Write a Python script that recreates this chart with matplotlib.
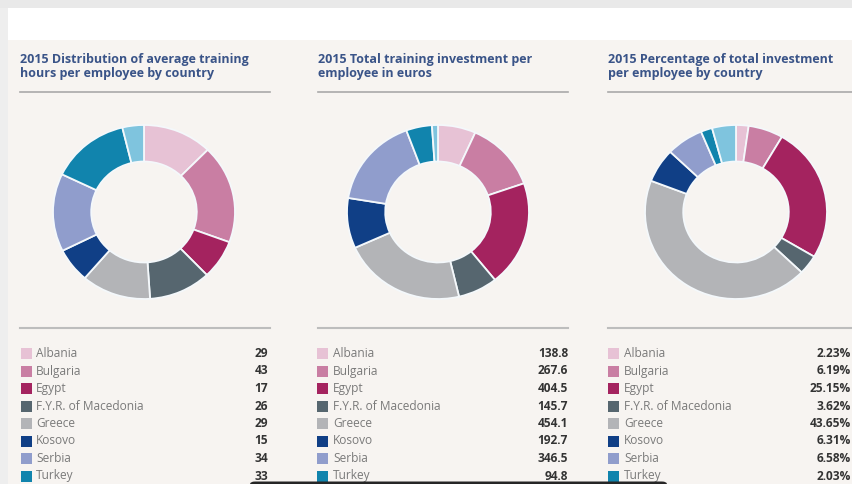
import matplotlib
matplotlib.use("Agg")
import matplotlib.pyplot as plt
from matplotlib.patches import Rectangle, FancyBboxPatch

# ---- data ----
countries = ["Albania", "Bulgaria", "Egypt", "F.Y.R. of Macedonia", "Greece",
             "Kosovo", "Serbia", "Turkey", "Other"]
hours = [29, 43, 17, 26, 29, 15, 34, 33, 9]
investment = [138.8, 267.6, 404.5, 145.7, 454.1, 192.7, 346.5, 94.8, 22]
percentage = [2.23, 6.19, 25.15, 3.62, 43.65, 6.31, 6.58, 2.03, 4.24]

hours_labels = ["29", "43", "17", "26", "29", "15", "34", "33"]
invest_labels = ["138.8", "267.6", "404.5", "145.7", "454.1", "192.7", "346.5", "94.8"]
pct_labels = ["2.23%", "6.19%", "25.15%", "3.62%", "43.65%", "6.31%", "6.58%", "2.03%"]

titles = ["2015 Distribution of average training\nhours per employee by country",
          "2015 Total training investment per\nemployee in euros",
          "2015 Percentage of total investment\nper employee by country"]

colors = ["#e7c2d5", "#c97ea3", "#a4235f", "#56666f", "#b3b4b7",
          "#103f86", "#909dcc", "#1184ad", "#7fc4de"]

W, H = 853, 484
fig = plt.figure(figsize=(W / 100, H / 100), dpi=100)
fig.patch.set_facecolor("#f7f4f1")

def fx(px):
    return px / W

def fy(py):
    return 1 - py / H

# background bands
fig.patches.append(Rectangle((0, fy(40)), 1, (40 - 8) / H, transform=fig.transFigure,
                             facecolor="#ffffff", edgecolor="none", zorder=0))
fig.patches.append(Rectangle((0, fy(8)), 1, 8 / H, transform=fig.transFigure,
                             facecolor="#e9e9e9", edgecolor="none", zorder=0))
fig.patches.append(Rectangle((0, 0), fx(8), fy(8), transform=fig.transFigure,
                             facecolor="#eeeeee", edgecolor="none", zorder=0))

panels = [
    dict(data=hours, vals=hours_labels, x0=20, x1=270, cx=144, sq=21, tx=36, vx=268),
    dict(data=investment, vals=invest_labels, x0=318, x1=568, cx=438, sq=317, tx=333, vx=568),
    dict(data=percentage, vals=pct_labels, x0=608, x1=853, cx=736, sq=608, tx=624, vx=851),
]

rx, ry, cy = 91, 87, 212
for i, p in enumerate(panels):
    # title
    fig.text(fx(p["x0"]), fy(53), titles[i], ha="left", va="top",
             fontsize=9.0, fontweight="bold", color="#3a5488",
             family="Open Sans", linespacing=1.15)
    # underline
    fig.add_artist(plt.Line2D([fx(p["x0"]), fx(p["x1"])], [fy(92), fy(92)],
                              color="#a9a9a9", lw=1.2))
    # donut
    ax = fig.add_axes([fx(p["cx"] - rx), fy(cy + ry), 2 * rx / W, 2 * ry / H])
    ax.pie(p["data"], colors=colors, startangle=90, counterclock=False,
           radius=1.0, wedgeprops=dict(width=0.42, edgecolor="#f4f8fb", linewidth=1.3))
    ax.set_aspect("auto")
    ax.set_xlim(-1, 1)
    ax.set_ylim(-1, 1)
    ax.axis("off")
    # table separator
    fig.add_artist(plt.Line2D([fx(p["x0"]), fx(p["x1"])], [fy(328), fy(328)],
                              color="#bdbdbd", lw=1.5))
    # rows
    for j in range(8):
        yc = 353.5 + 17.5 * j
        fig.patches.append(Rectangle((fx(p["sq"]), fy(yc + 5.5)), 11 / W, 11 / H,
                                     transform=fig.transFigure, facecolor=colors[j],
                                     edgecolor="none", zorder=2))
        fig.text(fx(p["tx"]), fy(yc), countries[j], ha="left", va="center",
                 fontsize=8.6, color="#7a7a7a", family="Open Sans")
        fig.text(fx(p["vx"]), fy(yc), p["vals"][j], ha="right", va="center",
                 fontsize=8.6, fontweight="bold", color="#333333", family="Open Sans")

# dark overlay bar at the bottom
fig.patches.append(FancyBboxPatch((fx(250), fy(484) - 0.02), (673 - 250 - 6) / W, 0.02 + 2.5 / H,
                                  boxstyle="round,pad=0,rounding_size=0.006",
                                  transform=fig.transFigure, facecolor="#262626",
                                  edgecolor="none", zorder=5, clip_on=False))

fig.savefig("out.png", dpi=100, facecolor=fig.get_facecolor())
